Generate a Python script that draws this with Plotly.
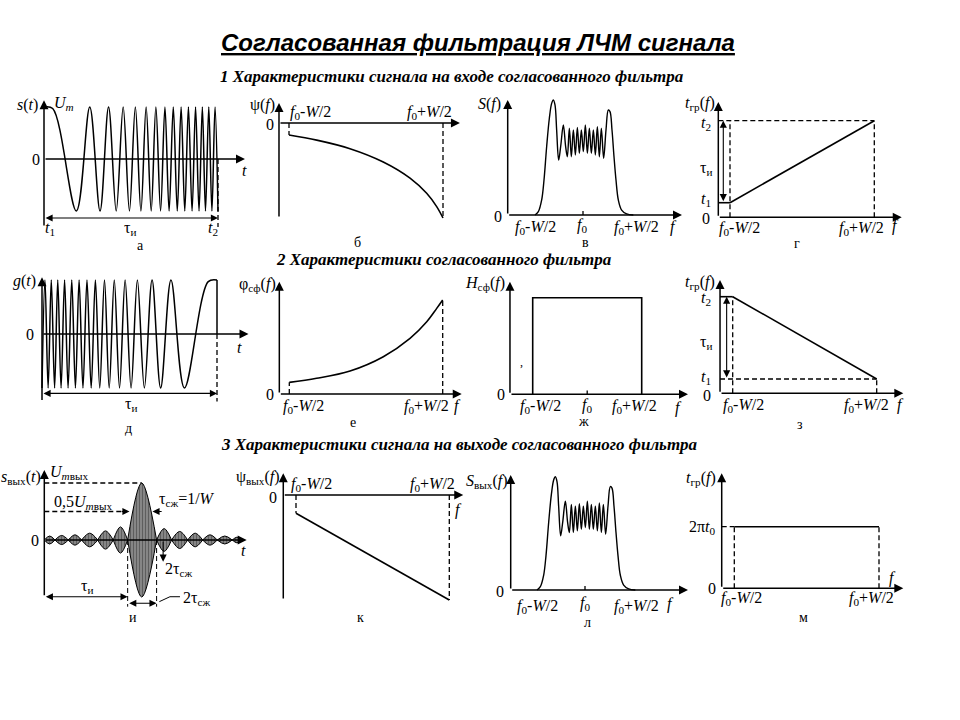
import plotly.graph_objects as go

W, H = 960, 720
SERIF = "Liberation Serif"
SANS = "Liberation Sans"

# ---------------- data ----------------
# а: LFM (chirp) input signal, extrema (t normalised: t1=0, t2=1)
chirp_t = [0, 0.05, 0.186, 0.263, 0.322, 0.371, 0.415, 0.455, 0.491, 0.525, 0.557,
           0.587, 0.616, 0.643, 0.670, 0.695, 0.719, 0.743, 0.766, 0.788, 0.809,
           0.830, 0.851, 0.871, 0.891, 0.910, 0.928, 0.947, 0.965, 0.983, 1.0]
chirp_s = [1, 0.97, -1, 1, -1, 1, -1, 1, -1, 1, -1,
           1, -1, 1, -1, 1, -1, 1, -1, 1, -1,
           1, -1, 1, -1, 1, -1, 1, -1, 1, -1]

# б: phase spectrum psi(f)  (f: 0 = f0-W/2, 1 = f0+W/2)
psi_f = [0, 0.18, 0.396, 0.612, 0.786, 0.894, 0.959, 1.0]
psi_v = [-0.126, -0.18, -0.27, -0.41, -0.58, -0.74, -0.88, -1.0]

# в / л: amplitude spectrum (f: 0 = f0, ±1 = f0±W/2)
spec_f = [-0.96, -0.893, -0.827, -0.78, -0.727, -0.673, -0.627, -0.593, -0.56, -0.527,
          -0.487, -0.447, -0.393, -0.347, -0.313, -0.273, -0.233, -0.193, -0.153, -0.113,
          -0.073, -0.033, 0.007, 0.047, 0.087, 0.127, 0.167, 0.207, 0.247, 0.287,
          0.327, 0.367, 0.413, 0.46, 0.507, 0.54, 0.58, 0.62, 0.66, 0.707,
          0.773, 0.873, 1.007]
spec_v = [0.0, 0.029, 0.13, 0.304, 0.594, 0.841, 0.971, 1.0, 0.957, 0.739,
          0.478, 0.594, 0.783, 0.594, 0.507, 0.754, 0.507, 0.739, 0.522, 0.762,
          0.536, 0.739, 0.551, 0.783, 0.536, 0.754, 0.536, 0.739, 0.522, 0.768,
          0.507, 0.754, 0.493, 0.739, 0.913, 0.899, 0.739, 0.507, 0.304, 0.13,
          0.043, 0.009, 0.0]

# г: group delay of input signal
gr_f = [0, 1]
gr_t = [0.151, 1.0]          # t1, t2 (t2 = 1)

# е: phase response of matched filter
phi_f = [0, 0.178, 0.396, 0.613, 0.787, 0.896, 0.961, 1.0]
phi_v = [0.124, 0.167, 0.245, 0.397, 0.592, 0.769, 0.911, 1.0]

# ж: amplitude response of matched filter
hf_f = [-1, -1, 1, 1]
hf_v = [0, 1, 1, 0]

# з: group delay of matched filter
zgr_f = [0, 1]
zgr_t = [1.0, 0.148]

# и: output (compressed) signal – lobe zero crossings, peak positions, amplitudes
out_edges = [0, 0.110, 0.246, 0.383, 0.548, 0.708, 0.856, 1.153, 1.307, 1.472,
             1.626, 1.776, 1.930, 2.026]
out_peak = [0.055, 0.178, 0.315, 0.466, 0.628, 0.782, 1.0, 1.23, 1.39, 1.549,
            1.701, 1.853, 1.978]
out_amp = [0.07, 0.08, 0.09, 0.12, 0.16, 0.23, 1.0, 0.20, 0.15, 0.12, 0.09, 0.07, 0.05]

# к: output phase spectrum
k_f = [0, 1]
k_v = [-0.174, -1.0]

# м: output group delay (2*pi*t0 = 1)
m_f = [0, 1]
m_t = [1, 1]

F_LO = "<i>f</i><sub>0</sub>-<i>W</i>/2"
F_HI = "<i>f</i><sub>0</sub>+<i>W</i>/2"
F0 = "<i>f</i><sub>0</sub>"
TAU = "τ<sub>и</sub>"

# ---------------- helpers ----------------
fig = go.Figure()
axes = {}
annotations = []
shapes = []


def panel(n, box, xmap, ymap):
    L, T, R, B = box
    d0, p0, d1, p1 = xmap
    sx = (d1 - d0) / (p1 - p0)
    e0, q0, e1, q1 = ymap
    sy = (e1 - e0) / (q1 - q0)
    sfx = '' if n == 1 else str(n)
    axes['xaxis' + sfx] = dict(domain=[L / W, R / W], range=[d0 + (L - p0) * sx, d0 + (R - p0) * sx],
                               visible=False, fixedrange=True, anchor='y' + sfx)
    axes['yaxis' + sfx] = dict(domain=[1 - B / H, 1 - T / H], range=[e0 + (B - q0) * sy, e0 + (T - q0) * sy],
                               visible=False, fixedrange=True, anchor='x' + sfx)
    return 'x' + sfx, 'y' + sfx


def arrow(ax_, x0, y0, x1, y1, both=False, width=1.5, size=1.2):
    xr, yr = ax_
    annotations.append(dict(xref=xr, yref=yr, axref=xr, ayref=yr, x=x1, y=y1, ax=x0, ay=y0,
                            text='', showarrow=True, arrowhead=2, arrowsize=size, arrowwidth=width,
                            arrowcolor='black', arrowside='end+start' if both else 'end',
                            standoff=0, startstandoff=0))


def seg(ax_, x0, y0, x1, y1, dash=False, width=1.3):
    xr, yr = ax_
    shapes.append(dict(type='line', xref=xr, yref=yr, x0=x0, y0=y0, x1=x1, y1=y1,
                       line=dict(color='black', width=width, dash='5px,3px' if dash else 'solid')))


def label(px, py, text, size=16, anchor='center', family=SERIF):
    annotations.append(dict(xref='paper', yref='paper', x=px / W, y=1 - py / H, text=text,
                            showarrow=False, xanchor=anchor, yanchor='middle',
                            font=dict(family=family, size=size, color='black')))


def curve(ax_, xs, ys, spline=True, width=1.6):
    xr, yr = ax_
    fig.add_trace(go.Scatter(x=xs, y=ys, xaxis=xr, yaxis=yr, mode='lines',
                             line=dict(color='black', width=width,
                                       shape='spline' if spline else 'linear'),
                             hoverinfo='skip', showlegend=False))


# ---------------- titles ----------------
label(478, 42, "<b><i><u>Согласованная фильтрация ЛЧМ сигнала</u></i></b>", 24, family=SANS)
label(452, 77, "<b><i>1 Характеристики сигнала на входе согласованного фильтра</i></b>", 17)
label(444, 259, "<b><i>2 Характеристики согласованного фильтра</i></b>", 17)
label(459, 444, "<b><i>3 Характеристики сигнала на выходе согласованного фильтра</i></b>", 17)

# ---------------- а ----------------
A = panel(1, (0, 92, 260, 252), (0, 44, 1, 218), (0, 159, 1, 107))
curve(A, chirp_t, chirp_s, width=1.5)
arrow(A, 0, -1.31, 0, 1.13)
arrow(A, 0, 0, 1.155, 0)
arrow(A, 0, -1.135, 1, -1.135, both=True, width=1.1, size=1.3)
seg(A, 1, 0, 1, -1.31, dash=True)
label(40, 105, "<i>s</i>(<i>t</i>)", anchor='right')
label(52, 104, "<i>U<sub>m</sub></i>", anchor='left')
label(36, 159, "0")
label(245, 170, "<i>t</i>")
label(50, 228, "<i>t</i><sub>1</sub>")
label(130, 228, TAU)
label(213, 228, "<i>t</i><sub>2</sub>")
label(140, 245, "а", 14)

# ---------------- б ----------------
B_ = panel(2, (245, 92, 470, 252), (0, 289, 1, 443), (0, 123, -1, 218))
curve(B_, psi_f, psi_v)
arrow(B_, -0.065, -1.0, -0.065, 0.21)
arrow(B_, -0.065, 0, 1.11, 0)
seg(B_, psi_f[0], 0, psi_f[0], psi_v[0], dash=True)
seg(B_, psi_f[-1], 0, psi_f[-1], psi_v[-1], dash=True)
label(277, 105, "ψ(<i>f</i>)", anchor='right')
label(270, 124, "0")
label(310, 112, F_LO)
label(429, 112, F_HI)
label(357, 242, "б", 14)

# ---------------- в ----------------
C = panel(3, (470, 92, 690, 252), (0, 583, 1, 633), (0, 215, 1, 100))
curve(C, spec_f, spec_v, width=1.4)
arrow(C, -1.506, 0, -1.506, 1.0)
arrow(C, -1.506, 0, 1.98, 0)
seg(C, 0, 0, 0, 0.035)
label(503, 104, "<i>S</i>(<i>f</i>)", anchor='right')
label(498, 216, "0")
label(535, 227, F_LO)
label(582, 225, F0)
label(636, 227, F_HI)
label(673, 227, "<i>f</i>")
label(585, 242, "в", 14)

# ---------------- г ----------------
G = panel(4, (690, 92, 915, 252), (0, 730, 1, 874.3), (0, 217.3, 1, 120.7))
curve(G, gr_f, gr_t, spline=False)
arrow(G, -0.081, 0, -0.081, 1.194)
arrow(G, -0.081, 0, 1.19, 0)
seg(G, -0.081, gr_t[1], gr_f[1], gr_t[1], dash=True)
seg(G, gr_f[0], 0, gr_f[0], gr_t[1], dash=True)
seg(G, gr_f[1], 0, gr_f[1], gr_t[1], dash=True)
seg(G, -0.081, gr_t[0], gr_f[0], gr_t[0], width=1.6)
arrow(G, -0.0465, gr_t[0], -0.0465, gr_t[1], both=True, width=1.1, size=1.3)
label(717, 104, "<i>t</i><sub>гр</sub>(<i>f</i>)", anchor='right')
label(706, 123, "<i>t</i><sub>2</sub>")
label(706, 168, TAU)
label(706, 199, "<i>t</i><sub>1</sub>")
label(706, 218, "0")
label(739, 228, F_LO)
label(861, 228, F_HI)
label(895, 226, "<i>f</i>")
label(797, 243, "г", 14)

# ---------------- д ----------------
D = panel(5, (0, 268, 260, 435), (0, 42, 1, 217), (0, 334, 1, 280))
g_t = [1 - t for t in reversed(chirp_t)]
g_s = list(reversed(chirp_s))
curve(D, g_t, g_s, width=1.5)
arrow(D, 0, -1.25, 0, 1.05)
arrow(D, 0, 0, 1.18, 0)
arrow(D, 0, -1.1, 1, -1.1, both=True, width=1.1, size=1.3)
seg(D, 1, 0, 1, 1, width=1.5)
seg(D, 1, 0, 1, -1.25, dash=True)
label(38, 281, "<i>g</i>(<i>t</i>)", anchor='right')
label(30, 334, "0")
label(239, 347, "<i>t</i>")
label(131, 404, TAU)
label(128, 428, "д", 14)

# ---------------- е ----------------
E = panel(6, (245, 268, 470, 435), (0, 289.3, 1, 442.7), (0, 394, 1, 300))
curve(E, phi_f, phi_v)
arrow(E, -0.065, 0, -0.065, 1.195)
arrow(E, -0.065, 0, 1.124, 0)
seg(E, phi_f[0], 0, phi_f[0], phi_v[0], dash=True)
seg(E, phi_f[-1], 0, phi_f[-1], phi_v[-1], dash=True)
label(278, 285, "φ<sub>сф</sub>(<i>f</i>)", anchor='right')
label(270, 394, "0")
label(303, 406, F_LO)
label(426, 406, F_HI)
label(457, 406, "<i>f</i>")
label(353, 422, "е", 14)

# ---------------- ж ----------------
Z = panel(7, (470, 268, 690, 435), (-1, 532.7, 1, 641.7), (0, 394.3, 1, 297.7))
curve(Z, hf_f, hf_v, spline=False)
arrow(Z, -1.417, 0, -1.417, 1.166)
arrow(Z, -1.417, 0, 1.85, 0)
seg(Z, 0, 0, 0, 0.04)
label(507, 284, "<i>H</i><sub>сф</sub>(<i>f</i>)", anchor='right')
label(501, 394, "0")
label(540, 406, F_LO)
label(587, 405, F0)
label(634, 406, F_HI)
label(678, 408, "<i>f</i>")
label(583, 421, "ж", 14)
label(521, 362, ",", 12)

# ---------------- з ----------------
S3 = panel(8, (690, 268, 915, 435), (0, 732.7, 1, 876.7), (0, 393.3, 1, 296.7))
curve(S3, zgr_f, zgr_t, spline=False)
arrow(S3, -0.088, 0, -0.088, 1.173)
arrow(S3, -0.088, 0, 1.185, 0)
seg(S3, -0.088, zgr_t[0], zgr_f[0], zgr_t[0], width=1.6)
seg(S3, zgr_f[0], 0, zgr_f[0], zgr_t[0], dash=True)
seg(S3, -0.088, zgr_t[1], zgr_f[1], zgr_t[1], dash=True)
seg(S3, zgr_f[1], 0, zgr_f[1], zgr_t[1], dash=True)
arrow(S3, -0.042, zgr_t[1], -0.042, zgr_t[0], both=True, width=1.1, size=1.3)
label(717, 283, "<i>t</i><sub>гр</sub>(<i>f</i>)", anchor='right')
label(706, 298, "<i>t</i><sub>2</sub>")
label(706, 342, TAU)
label(706, 377, "<i>t</i><sub>1</sub>")
label(707, 395, "0")
label(743, 405, F_LO)
label(866, 405, F_HI)
label(900, 405, "<i>f</i>")
label(800, 424, "з", 14)

# ---------------- и ----------------
I = panel(9, (0, 455, 260, 630), (0, 44.3, 1, 141.7), (0, 540, 1, 483))
ux, uy = [], []
for i, a in enumerate(out_amp):
    for sgn in (1, -1):
        ux += [out_edges[i], out_peak[i], out_edges[i + 1], None]
        uy += [0, sgn * a, 0, None]
fig.add_trace(go.Scatter(x=ux, y=uy, xaxis=I[0], yaxis=I[1], mode='lines', fill='toself',
                         line=dict(color='black', width=1, shape='spline'),
                         fillpattern=dict(shape='|', fgcolor='black', bgcolor='#bdbdbd',
                                          size=3, solidity=0.72),
                         hoverinfo='skip', showlegend=False))
arrow(I, 0, -0.995, 0, 1.228)
arrow(I, 0, 0, 2.078, 0)
main = out_amp.index(max(out_amp))
pk = out_peak[main]
seg(I, 0, out_amp[main], pk, out_amp[main], dash=True)
half = 0.5 * out_amp[main]
seg(I, 0, half, 0.80, half, dash=True)
arrow(I, 0.78, half, 0.875, half, width=1.1, size=1.3)
arrow(I, 1.22, half, 1.11, half, width=1.1, size=1.3)
arrow(I, 1.22, 0, 1.22, -0.38, width=1.1, size=1.3)
seg(I, out_edges[main], 0, out_edges[main], -1.17, dash=True, width=1)
seg(I, out_edges[main + 1], 0, out_edges[main + 1], -1.17, dash=True, width=1)
arrow(I, 0, -0.995, out_edges[main], -0.995, both=True, width=1.1, size=1.3)
arrow(I, out_edges[main], -1.11, out_edges[main + 1], -1.11, both=True, width=1.1, size=1.3)
seg(I, 1.181, -1.082, 1.29, -0.995, width=1)
seg(I, 1.29, -0.995, 1.393, -0.995, width=1)
label(43, 477, "<i>s</i><sub>вых</sub>(<i>t</i>)", anchor='right')
label(48, 472, "<i>U</i><sub><i>m</i>вых</sub>", anchor='left')
label(83, 502, "0,5<i>U</i><sub><i>m</i>вых</sub>")
label(157, 499, "τ<sub>сж</sub>=1/<i>W</i>", anchor='left')
label(35, 540, "0")
label(243, 550, "<i>t</i>")
label(178, 569, "2τ<sub>сж</sub>")
label(87, 586, TAU)
label(181, 598, "2τ<sub>сж</sub>", anchor='left')
label(133, 617, "и", 14)

# ---------------- к ----------------
K = panel(10, (245, 455, 470, 630), (0, 296, 1, 449.3), (0, 495, -1, 600))
curve(K, k_f, k_v, spline=False)
arrow(K, -0.083, -1.0, -0.083, 0.207)
arrow(K, -0.083, 0, 1.091, 0)
seg(K, k_f[0], 0, k_f[0], k_v[0], dash=True)
seg(K, k_f[-1], 0, k_f[-1], k_v[-1], dash=True)
label(282, 477, "ψ<sub>вых</sub>(<i>f</i>)", anchor='right')
label(273, 497, "0")
label(311, 484, F_LO)
label(432, 484, F_HI)
label(458, 510, "<i>f</i>")
label(360, 617, "к", 14)

# ---------------- л ----------------
Lp = panel(11, (470, 455, 695, 630), (0, 585, 1, 635), (0, 590, 1, 476.7))
curve(Lp, spec_f, spec_v, width=1.4)
arrow(Lp, -1.486, 0, -1.486, 1.015)
arrow(Lp, -1.486, 0, 2.06, 0)
seg(Lp, 0, 0, 0, 0.035)
label(510, 482, "<i>S</i><sub>вых</sub>(<i>f</i>)", anchor='right')
label(500, 591, "0")
label(537, 606, F_LO)
label(585, 603, F0)
label(636, 606, F_HI)
label(670, 604, "<i>f</i>")
label(587, 622, "л", 14)

# ---------------- м ----------------
M = panel(12, (695, 455, 915, 630), (0, 734.3, 1, 879), (0, 588.3, 1, 526.7))
curve(M, m_f, m_t, spline=False)
arrow(M, -0.087, 0, -0.087, 1.867)
arrow(M, -0.087, 0, 1.168, 0)
seg(M, -0.087, m_t[0], m_f[0], m_t[0], dash=True)
seg(M, m_f[0], 0, m_f[0], m_t[0], dash=True)
seg(M, m_f[1], 0, m_f[1], m_t[1], dash=True)
label(718, 478, "<i>t</i><sub>гр</sub>(<i>f</i>)", anchor='right')
label(718, 527, "2π<i>t</i><sub>0</sub>", anchor='right')
label(712, 588, "0")
label(741, 598, F_LO)
label(871, 598, F_HI)
label(892, 578, "<i>f</i>")
label(803, 617, "м", 14)

fig.update_layout(width=W, height=H, margin=dict(l=0, r=0, t=0, b=0),
                  paper_bgcolor='white', plot_bgcolor='rgba(0,0,0,0)',
                  showlegend=False, annotations=annotations, shapes=shapes, **axes)
fig.write_html("out.html", config={'displayModeBar': False},
               post_script="document.body.style.margin='0';document.body.style.overflow='hidden';")
